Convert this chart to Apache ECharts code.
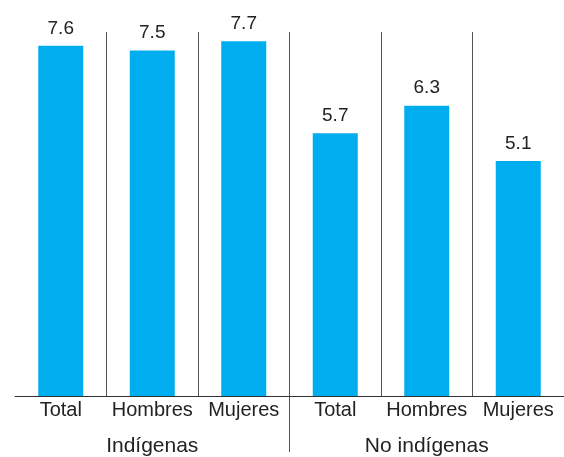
<!DOCTYPE html>
<html>
<head>
<meta charset="utf-8">
<script src="https://cdn.jsdelivr.net/npm/echarts@6/dist/echarts.min.js"></script>
<style>html,body{margin:0;padding:0;background:#fff}#c{width:564px;height:457px}</style>
</head>
<body>
<div id="c"></div>
<script>
const categories = ['Total', 'Hombres', 'Mujeres', 'Total', 'Hombres', 'Mujeres'];
const groups = ['Indígenas', 'No indígenas'];
const values = [7.6, 7.5, 7.7, 5.7, 6.3, 5.1];

const FONT = '"Liberation Sans", Arial, Helvetica, sans-serif';
const chart = echarts.init(document.getElementById('c'), null, {renderer: 'canvas'});
chart.setOption({
  animation: false,
  backgroundColor: '#fff',
  grid: [
    {left: 15, right: -3, top: 32, bottom: 61, containLabel: false},
    {left: 15, right: -3, top: 32, bottom: 5, containLabel: false}
  ],
  xAxis: [
    {
      type: 'category', gridIndex: 0, data: categories,
      axisLine: {show: true, lineStyle: {color: '#333', width: 1}},
      axisTick: {show: false},
      axisLabel: {fontFamily: FONT, fontSize: 20, color: '#222', margin: 4, interval: 0},
      splitLine: {show: true, showMinLine: false, showMaxLine: false, lineStyle: {color: '#555', width: 1}}
    },
    {
      type: 'category', gridIndex: 0, data: groups, position: 'bottom', offset: 36,
      axisLine: {show: false}, axisTick: {show: false},
      axisLabel: {fontFamily: FONT, fontSize: 21, color: '#222', margin: 4, interval: 0},
      splitLine: {show: false}
    },
    {
      type: 'category', gridIndex: 1, data: groups,
      axisLine: {show: false}, axisTick: {show: false}, axisLabel: {show: false},
      splitLine: {show: true, showMinLine: false, showMaxLine: false, lineStyle: {color: '#555', width: 1}}
    }
  ],
  yAxis: [
    {type: 'value', gridIndex: 0, min: 0, max: 7.9, show: false, splitLine: {show: false}},
    {type: 'value', gridIndex: 1, min: 0, max: 1, show: false, splitLine: {show: false}}
  ],
  series: [
    {
      type: 'bar', xAxisIndex: 0, yAxisIndex: 0, data: values,
      barWidth: 45,
      itemStyle: {color: '#00AEEF'},
      label: {
        show: true, position: 'top', distance: 8,
        fontFamily: FONT, fontSize: 19, color: '#222',
        formatter: p => p.value.toFixed(1)
      }
    }
  ]
});
</script>
</body>
</html>
